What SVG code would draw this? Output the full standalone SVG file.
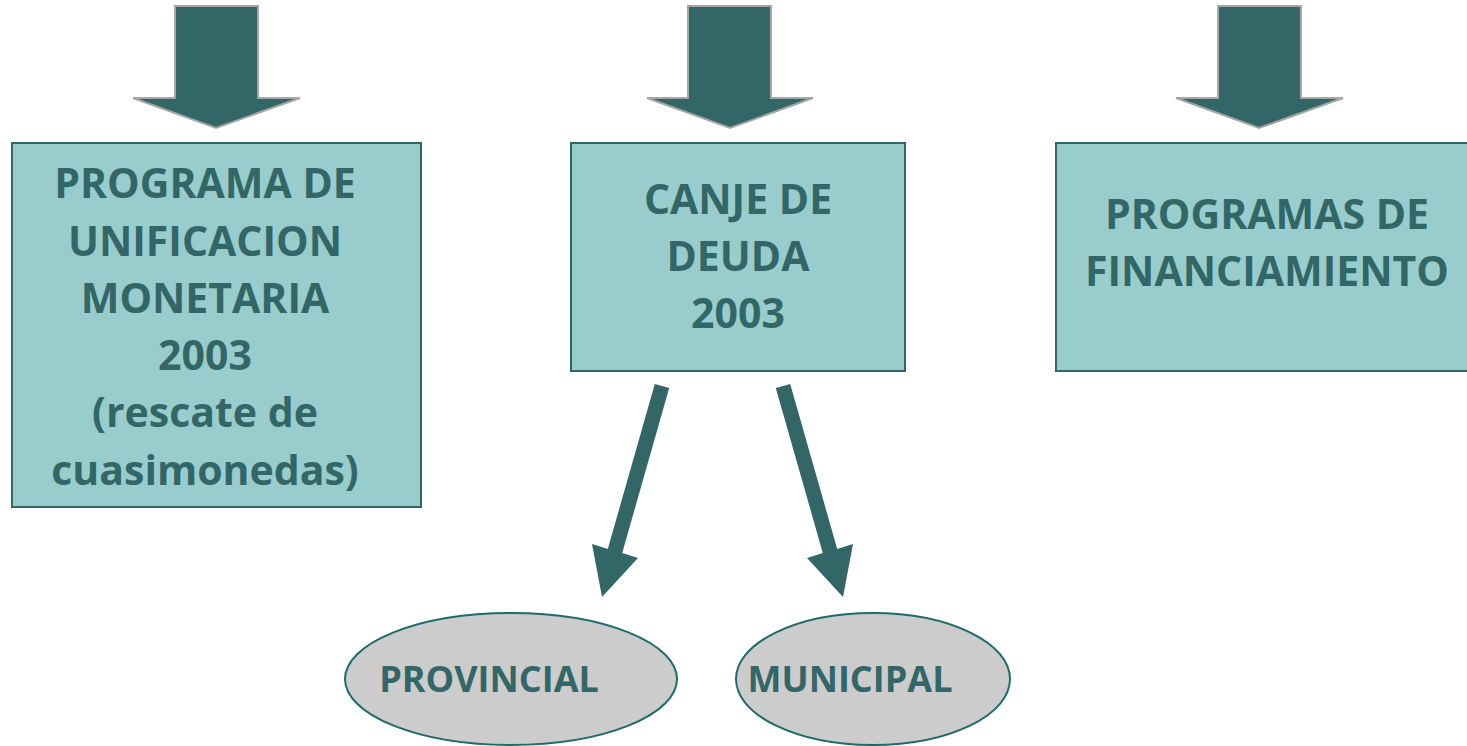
<svg xmlns="http://www.w3.org/2000/svg" width="1467" height="746" viewBox="0 0 1467 746">
<style>
.box{fill:#99CCCC;stroke:#336666;stroke-width:2}
.ell{fill:#CCCCCC;stroke:#1F6B6B;stroke-width:2}
.blk{fill:#336666;stroke:#A6A6A6;stroke-width:2}
.arr{fill:#336666}
.t{font-family:"Open Sans","Liberation Sans",sans-serif;font-weight:bold;font-size:41px;fill:#336666;text-anchor:middle}
.s{font-size:36px}
</style>
<rect width="1467" height="746" fill="#FFFFFF"/>
<g id="connectors">
<polygon class="blk" points="175,6 258,6 258,98 300,98 216,128 133,98 175,98"/>
<polygon class="blk" points="688,6 771,6 771,98 813,98 730,128 647,98 688,98"/>
<polygon class="blk" points="1218,6 1301,6 1301,98 1343,98 1259,128 1176,98 1218,98"/>
<polygon class="arr" points="654.8,384 669.2,388 622.2,553 638,558 602,597 592,544 607.8,549"/>
<polygon class="arr" points="790.2,384 775.8,388 822.8,553 807,558 843,597 853,544 837.2,549"/>
</g>
<g id="node-programa-unificacion">
<rect class="box" x="12" y="143" width="409" height="364"/>
<text class="t" x="205" y="198">PROGRAMA DE</text>
<text class="t" x="205" y="256">UNIFICACION</text>
<text class="t" x="205" y="313">MONETARIA</text>
<text class="t" x="205" y="370">2003</text>
<text class="t" x="205" y="427">(rescate de</text>
<text class="t" x="205" y="485">cuasimonedas)</text>
</g>
<g id="node-canje">
<rect class="box" x="571" y="143" width="334" height="228"/>
<text class="t" x="738" y="214">CANJE DE</text>
<text class="t" x="738" y="271">DEUDA</text>
<text class="t" x="738" y="328">2003</text>
</g>
<g id="node-programas-financiamiento">
<rect class="box" x="1056" y="143" width="420" height="228"/>
<text class="t" x="1267" y="229">PROGRAMAS DE</text>
<text class="t" x="1267" y="286">FINANCIAMIENTO</text>
</g>
<g id="node-provincial">
<ellipse class="ell" cx="511" cy="679" rx="166" ry="66"/>
<text class="t s" x="489" y="692">PROVINCIAL</text>
</g>
<g id="node-municipal">
<ellipse class="ell" cx="873" cy="679" rx="137" ry="66"/>
<text class="t s" x="850" y="692">MUNICIPAL</text>
</g>
</svg>
